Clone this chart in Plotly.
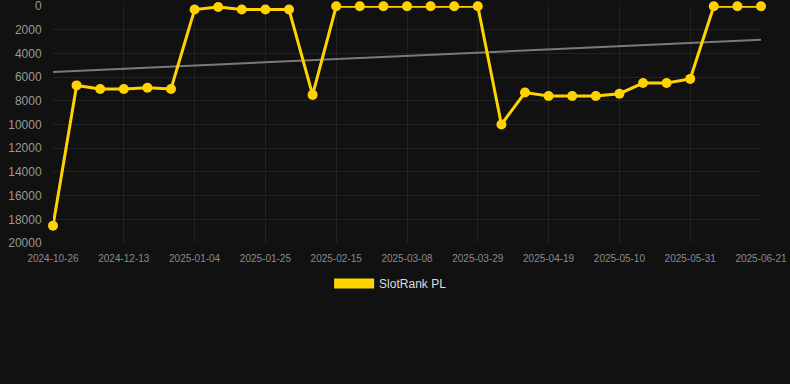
import plotly.graph_objects as go

dates = [
    "2024-10-26", "2024-11-09", "2024-11-23", "2024-12-13", "2024-12-21", "2024-12-28",
    "2025-01-04", "2025-01-11", "2025-01-18", "2025-01-25", "2025-02-01", "2025-02-08",
    "2025-02-15", "2025-02-22", "2025-03-01", "2025-03-08", "2025-03-15", "2025-03-22",
    "2025-03-29", "2025-04-05", "2025-04-12", "2025-04-19", "2025-04-26", "2025-05-03",
    "2025-05-10", "2025-05-17", "2025-05-24", "2025-05-31", "2025-06-07", "2025-06-14",
    "2025-06-21",
]
rank = [
    18550, 6700, 7000, 7000, 6900, 7000,
    300, 80, 300, 300, 300, 7500,
    20, 20, 20, 20, 20, 20,
    20, 10000, 7300, 7600, 7600, 7600,
    7400, 6500, 6500, 6150, 20, 20,
    20,
]
trend_dates = ["2024-10-26", "2025-06-21"]
trend_values = [5570, 2850]
tick_labels = dates[::3]
y_ticks = [0, 2000, 4000, 6000, 8000, 10000, 12000, 14000, 16000, 18000, 20000]

gold = "#FFD200"

fig = go.Figure()
fig.add_trace(go.Scatter(
    x=trend_dates, y=trend_values, mode="lines",
    line=dict(color="#7a7a7a", width=2), showlegend=False, hoverinfo="skip",
))
fig.add_trace(go.Scatter(
    x=dates, y=rank, mode="lines+markers", cliponaxis=False,
    line=dict(color=gold, width=3), marker=dict(color=gold, size=10),
    showlegend=False, name="SlotRank PL",
))
fig.add_trace(go.Scatter(
    x=[None], y=[None], mode="lines",
    line=dict(color=gold, width=10), name="SlotRank PL", showlegend=True,
))

fig.update_layout(
    width=790, height=384,
    paper_bgcolor="#111111", plot_bgcolor="#111111",
    margin=dict(l=53, r=29, t=6, b=141, autoexpand=False),
    font=dict(family="Liberation Sans, Arial, sans-serif", color="#999999"),
    legend=dict(orientation="h", x=0.39, xanchor="left", y=-0.11, yanchor="top",
                itemwidth=40,
                font=dict(size=12, color="#dddddd"), bgcolor="rgba(0,0,0,0)"),
    xaxis=dict(
        type="category", categoryorder="array", categoryarray=dates, automargin=False,
        range=[0, 30], tickmode="array", tickvals=tick_labels, ticktext=tick_labels,
        tickfont=dict(size=10, color="#8a8a8a"), showgrid=True, gridcolor="#222222",
        zeroline=False, showline=False, ticks="outside", ticklen=6, tickcolor="rgba(0,0,0,0)",
        ticklabeloverflow="allow",
    ),
    yaxis=dict(
        range=[20000, -0.5], tickmode="array", automargin=False,
        tickvals=y_ticks, ticktext=[str(v) for v in y_ticks],
        tickfont=dict(size=12, color="#999999"), showgrid=True, gridcolor="#222222",
        zeroline=False, showline=False, ticks="outside", ticklen=8, tickcolor="rgba(0,0,0,0)",
        ticklabeloverflow="allow",
    ),
)

fig.write_html("out.html", config={"displayModeBar": False},
               post_script="document.body.style.margin='0';document.body.style.background='#111111';")
